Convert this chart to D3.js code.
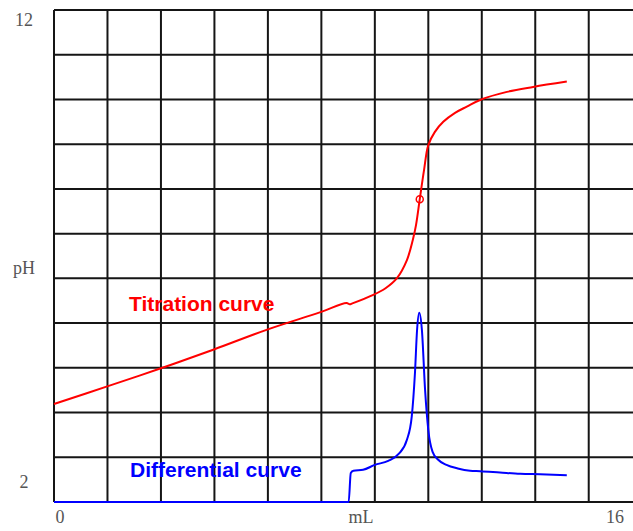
<!DOCTYPE html>
<html>
<head>
<meta charset="utf-8">
<script src="https://cdn.jsdelivr.net/npm/d3@7"></script>
<style>
  body { margin: 0; background: #fff; }
  svg { display: block; }
</style>
</head>
<body>
<div id="ChartArea"></div>
<script>
// grid units: 1 column / 1 row of the paper grid
var xTickLabels = ["0", "mL", "16"];
var xTickAt = [0.11, 5.74, 10.49];
var yTickLabels = ["12", "pH", "2"];
var yTickAt = [10.78, 5.23, 0.45];

// titration curve (x, pH)
var titrationX = [0, 1.01, 2.0, 2.99, 4.0, 4.97, 5.47, 5.53, 5.58, 5.97, 6.2, 6.41, 6.6, 6.71, 6.77, 6.84, 6.92, 7.0, 7.12, 7.28, 7.5, 7.72, 7.99, 8.47, 8.96, 9.59];
var titrationY = [2.19, 2.59, 2.99, 3.41, 3.86, 4.24, 4.45, 4.42, 4.44, 4.63, 4.78, 5.0, 5.41, 5.86, 6.19, 6.77, 7.42, 7.98, 8.27, 8.5, 8.7, 8.84, 9.0, 9.17, 9.28, 9.4];
var equivalenceX = 6.84;
var equivalenceY = 6.77;

// differential curve
var diffX = [0, 5.51, 5.55, 5.6, 5.78, 6.0, 6.25, 6.45, 6.6, 6.69, 6.75, 6.79, 6.83, 6.88, 6.94, 7.0, 7.08, 7.18, 7.34, 7.55, 7.78, 7.97, 8.34, 8.72, 9.09, 9.59];
var diffY = [0, 0, 0.65, 0.70, 0.72, 0.83, 0.92, 1.08, 1.39, 1.91, 2.88, 3.85, 4.23, 3.85, 2.5, 1.61, 1.12, 0.95, 0.83, 0.75, 0.70, 0.69, 0.66, 0.63, 0.62, 0.60];

var nCols = 11, nRows = 11;

var width = 633, height = 531;
var svg = d3.select("#ChartArea").append("svg")
    .attr("width", width)
    .attr("height", height);

var x = d3.scaleLinear().domain([0, nCols]).range([54, 642.2]);
var y = d3.scaleLinear().domain([0, nRows]).range([502, 10]);

// grid
var grid = svg.append("g").attr("stroke", "#151515").attr("stroke-width", 2);
grid.selectAll(".vline")
  .data(d3.range(0, nCols + 1))
  .enter().append("line")
  .attr("class", "vline")
  .attr("x1", function(d) { return x(d); })
  .attr("x2", function(d) { return x(d); })
  .attr("y1", y(0))
  .attr("y2", y(nRows));
grid.selectAll(".hline")
  .data(d3.range(0, nRows + 1))
  .enter().append("line")
  .attr("class", "hline")
  .attr("x1", x(0))
  .attr("x2", x(nCols))
  .attr("y1", function(d) { return y(d); })
  .attr("y2", function(d) { return y(d); });

var smoothLine = d3.line()
  .x(function(d) { return x(d[0]); })
  .y(function(d) { return y(d[1]); })
  .curve(d3.curveCatmullRom.alpha(0.5));

var monoLine = d3.line()
  .x(function(d) { return x(d[0]); })
  .y(function(d) { return y(d[1]); })
  .curve(d3.curveMonotoneX);

var diffData = diffX.map(function(v, i) { return [v, diffY[i]]; });
svg.append("path")
  .datum(diffData)
  .attr("d", monoLine)
  .attr("fill", "none")
  .attr("stroke", "#0000ff")
  .attr("stroke-width", 2);

var titData = titrationX.map(function(v, i) { return [v, titrationY[i]]; });
svg.append("path")
  .datum(titData)
  .attr("d", smoothLine)
  .attr("fill", "none")
  .attr("stroke", "#ff0000")
  .attr("stroke-width", 2);

svg.append("circle")
  .attr("cx", x(equivalenceX))
  .attr("cy", y(equivalenceY))
  .attr("r", 3.5)
  .attr("fill", "none")
  .attr("stroke", "#ff0000")
  .attr("stroke-width", 1.5);

// curve names
svg.append("text")
  .attr("x", 129).attr("y", 311)
  .attr("fill", "#ff0000")
  .style("font", "bold 21px 'Liberation Sans', Arial, sans-serif")
  .text("Titration curve");
svg.append("text")
  .attr("x", 130).attr("y", 477)
  .attr("fill", "#0000ff")
  .style("font", "bold 21px 'Liberation Sans', Arial, sans-serif")
  .text("Differential curve");

// tick labels
svg.selectAll(".xlab")
  .data(xTickLabels)
  .enter().append("text")
  .attr("class", "xlab")
  .attr("x", function(d, i) { return x(xTickAt[i]); })
  .attr("y", 523)
  .attr("text-anchor", "middle")
  .attr("fill", "#555")
  .style("font", "18px 'Liberation Serif', 'Times New Roman', serif")
  .text(function(d) { return d; });

svg.selectAll(".ylab")
  .data(yTickLabels)
  .enter().append("text")
  .attr("class", "ylab")
  .attr("x", 24)
  .attr("y", function(d, i) { return y(yTickAt[i]); })
  .attr("dy", "0.35em")
  .attr("text-anchor", "middle")
  .attr("fill", "#555")
  .style("font", "18px 'Liberation Serif', 'Times New Roman', serif")
  .text(function(d) { return d; });
</script>
</body>
</html>
